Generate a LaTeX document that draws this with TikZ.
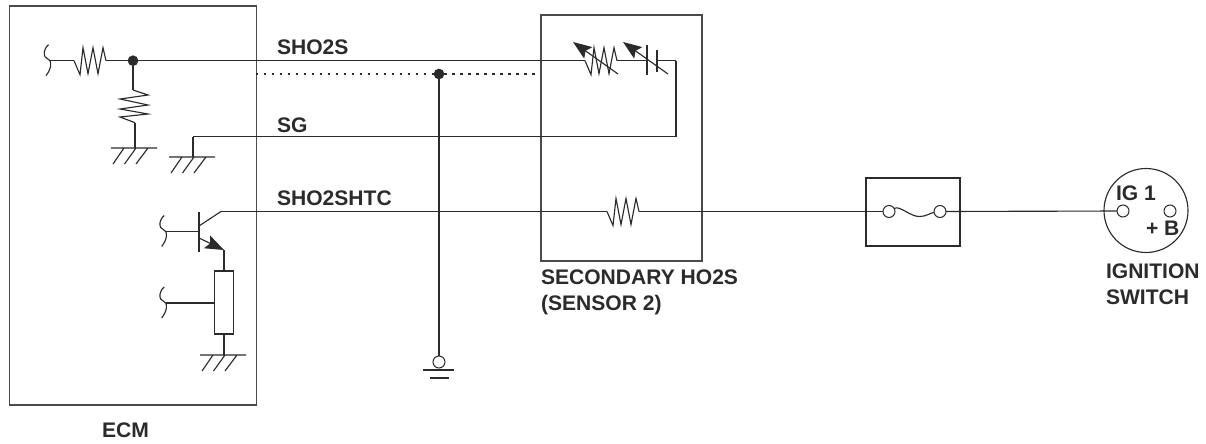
\documentclass[tikz,border=0pt]{standalone}
\usepackage{fontspec}
\setmainfont{Liberation Sans}
\usetikzlibrary{arrows.meta}
\definecolor{wirecol}{HTML}{2B2B2B}
\definecolor{boxcol}{HTML}{4A4A4A}
\tikzset{
    every node/.style={inner sep=0pt, outer sep=0pt, wirecol},
    wire/.style={draw=wirecol, line width=.85pt},
    shieldline/.style={draw=wirecol, line width=.8pt, dash pattern=on 1.7pt off 4.3pt},
    txt/.style={font=\fontsize{15.8}{18}\selectfont\bfseries, anchor=west},
    box/.style={rectangle, draw=boxcol, line width=.95pt},
    junction/.style={circle, fill=wirecol, minimum size=8pt},
    contact/.style={circle, draw=wirecol, line width=.75pt, minimum size=9pt},
    varrow/.style={-{Stealth[length=14pt, width=10.5pt, inset=2.5pt]}},
    zigzag/.pic={\draw[wire, line join=miter] (0,0) -- (6,14) -- (9,-13) -- (14,13) -- (19,-13) -- (24,13) -- (29,-13) -- (32,0);},
    stub/.pic={\draw[wire] (-1.5,-16) .. controls (-7,-11) and (-6,-6) .. (-5,-4) .. controls (-4,-2) and (-1,-2) .. (0,0)
        .. controls (1,2) and (2,7) .. (-4,15);},
    earth/.pic={\draw[wire] (-24,0) -- (22,0) (-11,0) -- (-22,16) (1,0) -- (-10.5,16) (13,0) -- (1,16);}
}

\begin{document}
\begin{tikzpicture}[x=.75pt, y=-.75pt]
	\useasboundingbox (0,0) rectangle (1206,443);
	
	% boxes
	\node (ecm) [box, minimum width=185.6pt, minimum height=299.3pt] at (133,205.5) {};
	\node (sensor) [box, minimum width=120.75pt, minimum height=184.5pt] at (621.5,138) {};
	\node (fuse) [box, draw=wirecol, line width=.8pt, minimum width=70.5pt, minimum height=51pt] at (913,212) {};
	\node (heater) [box, draw=wirecol, line width=.85pt, minimum width=14.25pt, minimum height=47.25pt] at (224,302.5) {};
	\node (switch) [circle, draw=wirecol, line width=.85pt, minimum size=63pt] at (1146,210.5) {};
	
	% labels
	\node (sho2s) [txt] at (277,47) {SHO2S};
	\node (sg) [txt] at (277,125) {SG};
	\node (htc) [txt] at (277,198.5) {SHO2SHTC};
	\node (sec1) [txt] at (541,277.5) {SECONDARY HO2S};
	\node (sec2) [txt] at (541,305) {(SENSOR 2)};
	\node (ign1) [txt] at (1106,271) {IGNITION};
	\node (ign2) [txt] at (1106,297.5) {SWITCH};
	\node (ecmtxt) [txt, anchor=center] at (125.5,430) {ECM};
	\node (ig) [txt] at (1116,193.5) {IG 1};
	\node (plusb) [txt] at (1146,228) {+ B};
	
	% junctions and contacts
	\node (dot1) [junction] at (133,60.7) {};
	\node (dot2) [junction] at (439,74) {};
	\node (fuse1) [contact] at (889,211.5) {};
	\node (fuse2) [contact] at (940,211.5) {};
	\node (ig1) [contact] at (1123,211) {};
	\node (batt) [contact] at (1170,211) {};
	\node (shield) [contact] at (439,362) {};
	
	% points on the wires
	\coordinate (s1) at (50,60.7);
	\coordinate (r1a) at (74,60.7);
	\coordinate (r1b) at (106,60.7);
	\coordinate (r2a) at (133,90);
	\coordinate (r2b) at (135,122.7);
	\coordinate (g1) at (135,148);
	\coordinate (r3a) at (585,60.7);
	\coordinate (r3b) at (617,60.7);
	\coordinate (c1) at (647,60.7);
	\coordinate (c2) at (657,60.7);
	\coordinate (k1) at (676,60.7);
	\coordinate (k2) at (676,136.7);
	\coordinate (k3) at (193,136.7);
	\coordinate (g2) at (193,157);
	\coordinate (dota) at (256,74);
	\coordinate (dotb) at (539,74);
	\coordinate (col1) at (199,226);
	\coordinate (col2) at (221,211.5);
	\coordinate (r4a) at (607,211.5);
	\coordinate (r4b) at (639,211.5);
	\coordinate (bar1) at (199,212);
	\coordinate (bar2) at (199,252);
	\coordinate (s2) at (165.7,231.5);
	\coordinate (base) at (199,231.5);
	\coordinate (emi1) at (199,238);
	\coordinate (emi2) at (224,250);
	\coordinate (s3) at (165.7,303);
	\coordinate (tap) at (214.5,303);
	\coordinate (g3) at (224,355);
	\coordinate (p1) at (647,45);
	\coordinate (p2) at (647,75);
	\coordinate (p3) at (657,50);
	\coordinate (p4) at (657,72);
	\coordinate (a1) at (618,74);
	\coordinate (a2) at (573,42);
	\coordinate (a3) at (668,74);
	\coordinate (a4) at (623,42);
	\coordinate (e1) at (423,370);
	\coordinate (e2) at (454,370);
	\coordinate (e3) at (430,378);
	\coordinate (e4) at (449,378);
	
	% resistors, stubs and earths
	\pic at (r1a) {zigzag};
	\pic at (r3a) {zigzag};
	\pic at (r4a) {zigzag};
	\draw[wire] (r2a) -- (148,95) -- (120,99) -- (148,105) -- (120,109) -- (148,114) -- (120,117) -- (r2b);
	\pic at (s1) {stub};
	\pic at (s2) {stub};
	\pic at (s3) {stub};
	\pic at (g1) {earth};
	\pic at (g2) {earth};
	\pic at (g3) {earth};
	
	% wires
	\draw[wire] (s1) edge (r1a); \draw[wire] (r1b) edge (dot1); \draw[wire] (dot1) edge (r3a);
	\draw[wire] (r3b) edge (c1); \draw[wire] (c2) edge (k1); \draw[wire] (k1) edge (k2);
	\draw[wire] (k2) edge (k3); \draw[wire] (k3) edge (g2); \draw[wire] (dot1) edge (r2a);
	\draw[wire] (r2b) edge (g1); \draw[wire] (col2) edge (r4a); \draw[wire] (col1) edge (col2);
	\draw[wire] (r4b) edge (fuse1); \draw[wire] (fuse2) edge (ig1);
	\draw[wire] (bar1) edge (bar2); \draw[wire] (s2) edge (base); \draw[wire] (s3) edge (tap);
	\draw[wire] (emi2) edge (heater); \draw[wire] (heater) edge (g3);
	\draw[wire] (dot2) edge (shield);
	\draw[wire] (e1) edge (e2); \draw[wire] (e3) edge (e4);
	\draw[wire] (p1) edge (p2); \draw[wire] (p3) edge (p4);
	\draw[shieldline] (dota) edge (dot2); \draw[shieldline] (dot2) edge (dotb);
	\draw[wire] (fuse1) .. controls (900,205) and (910,217) .. (920,216.5) .. controls (926,216.5) and (930,213) .. (fuse2);
	
	% arrows
	\draw[wire, varrow] (emi1) -- (emi2);
	\draw[wire, varrow] (a1) -- (a2);
	\draw[wire, varrow] (a3) -- (a4);
\end{tikzpicture}
\end{document}
